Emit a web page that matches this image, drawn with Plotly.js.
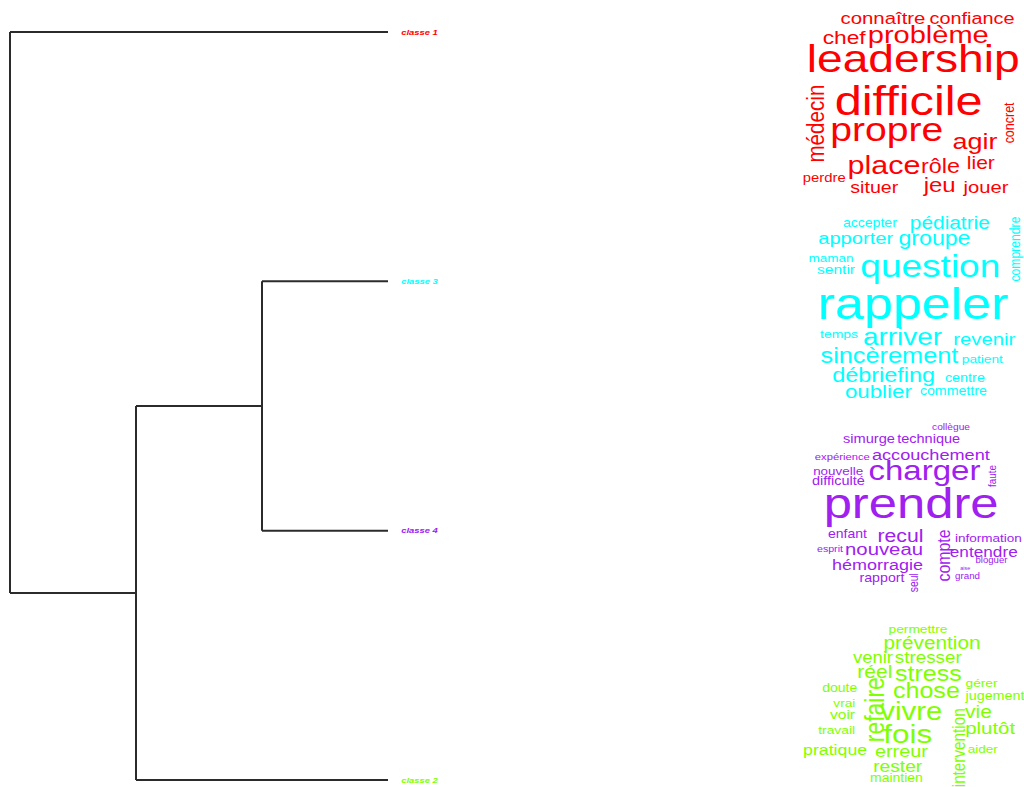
<!DOCTYPE html>
<html>
<head>
<meta charset="utf-8">
<script src="https://cdn.plot.ly/plotly-3.0.1.min.js"></script>
<style>html,body{margin:0;padding:0;background:#fff;}#chart{width:1024px;height:787px;}</style>
</head>
<body>
<div id="chart"></div>
<script>
// ---------- DATA ----------
// Dendrogram leaves (top to bottom) and merges (hclust style: negative = leaf index)
const leafLabels = ['classe 1', 'classe 3', 'classe 4', 'classe 2'];
const leafColors = ['#FF0000', '#00FFFF', '#A020F0', '#7FFF00'];
const mergePairs = [[-2, -3], [1, -4], [-1, 2]];
const mergeHeights = [1, 2, 3];

// Word clouds, one list per class
const words1 = ['connaître','confiance','chef','problème','leadership','difficile','médecin','concret','propre','agir','place','rôle','lier','perdre','situer','jeu','jouer'];
const words3 = ['accepter','pédiatrie','comprendre','apporter','groupe','maman','sentir','question','rappeler','temps','arriver','revenir','sincèrement','patient','débriefing','centre','oublier','commettre'];
const words4 = ['collègue','simurge','technique','expérience','accouchement','charger','nouvelle','difficulté','faute','prendre','enfant','recul','compte','information','esprit','nouveau','entendre','hémorragie','bloguer','aise','grand','rapport','seul'];
const words2 = ['permettre','prévention','venir','stresser','réel','stress','gérer','doute','chose','jugement','refaire','vrai','vivre','vie','voir','intervention','fois','plutôt','travail','pratique','erreur','aider','rester','maintien'];

// ---------- LAYOUT OF WORDS (pixel boxes: [start, end, baseline, angle]) ----------
const place1 = [[840,925,24,0],[929,1014,24,0],[823,866,44,0],[867,988,43.5,0],[806,1019,72,0],[834,982,115,0],[85,163,823,-90],[102,143,1015,-90],[830,943,141,0],[953,998,149,0],[847,920,174,0],[921,960,173,0],[967,995,169,0],[802,845,182,0],[850,898,193,0],[923,955,192,0],[963,1008,193,0]];
const place3 = [[843,897,227,0],[910,990,229,0],[217,282,1020,-90],[818,893,244,0],[898,970,245,0],[808,853,262,0],[817,855,274,0],[860,1000,277,0],[817,1008,319,0],[820,858,338,0],[863,942,345,0],[953,1015,345,0],[820,958,363,0],[962,1003,363,0],[832,935,382,0],[945,985,382,0],[845,912,398,0],[920,987,395,0]];
const place4 = [[932,970,430,0],[843,895,443,0],[897,960,443,0],[815,870,460,0],[872,990,460,0],[868,980,480,0],[813,863,475,0],[812,865,485,0],[465,487,995,-90],[823,998,518,0],[828,867,538,0],[877,923,542,0],[530,582,950,-90],[955,1022,542,0],[817,843,552,0],[845,923,555,0],[950,1018,557,0],[832,923,570,0],[975,1007,563,0],[960,970,570,0],[955,980,579,0],[860,905,582,0],[573,592,918,-90]];
const place2 = [[888,947,633,0],[883,980,649,0],[853,893,663,0],[895,962,663,0],[857,892,678,0],[895,962,681,0],[965,997,687,0],[822,857,692,0],[893,960,698,0],[965,1024,700,0],[677,742,883,-90],[833,855,707,0],[880,942,720,0],[965,992,718,0],[830,855,719,0],[708,787,965,-90],[883,932,743,0],[965,1015,734,0],[818,855,734,0],[803,867,755,0],[875,928,757,0],[968,998,753,0],[873,922,772,0],[870,923,782,0]];

const W = 1024, H = 787;
const FONT = 'Liberation Sans';
const STRETCH = 1.18;   // the original picture is horizontally stretched

// ---------- DENDROGRAM SEGMENTS ----------
const nodePos = [], nodeH = [];
function posOf(i){ return i < 0 ? (-i) : nodePos[i-1]; }
function hOf(i){ return i < 0 ? 0 : nodeH[i-1]; }
const xs = [], ys = [];
mergePairs.forEach((pr, k) => {
  const h = mergeHeights[k];
  const pa = posOf(pr[0]), pb = posOf(pr[1]);
  pr.forEach(c => { xs.push(hOf(c), h, null); ys.push(posOf(c), posOf(c), null); });
  xs.push(h, h, null); ys.push(pa, pb, null);
  nodePos.push((pa + pb) / 2); nodeH.push(h);
});

const traces = [{
  type: 'scatter', mode: 'lines', x: xs, y: ys,
  line: {color: '#2b2b2b', width: 2}, hoverinfo: 'skip', showlegend: false
}];

const unitX = 126, leafPx = 388;
const unitY = 748 / 3, topPx = 32;
const xRange = [3 + (leafPx - 3*unitX) / unitX, -(W - leafPx) / unitX];
const yRange = [leafLabels.length + (H - (topPx + (leafLabels.length-1)*unitY)) / unitY, 1 - topPx / unitY];

const annotations = [];
const angles = [];
leafLabels.forEach((lab, i) => {
  annotations.push({
    x: 0, y: i + 1, xref: 'x', yref: 'y', text: lab, showarrow: false,
    xanchor: 'left', yanchor: 'middle', xshift: 14,
    font: {family: FONT, size: 8, color: leafColors[i], weight: 'bold', style: 'italic'}
  });
  angles.push(0);
});

const cv = document.createElement('canvas').getContext('2d');
cv.font = '100px "' + FONT + '"';
function addWords(words, places, color){
  words.forEach((w, i) => {
    const p = places[i];
    const len = p[1] - p[0];
    const m = cv.measureText(w).width / 100;
    let cx, cy, size;
    if (p[3] === 0) {
      size = len / (m * STRETCH);
      cx = (p[0] + p[1]) / 2; cy = p[2] - 0.3465 * size;
    } else {
      size = len / m;
      cy = (p[0] + p[1]) / 2; cx = p[2] - 0.3465 * size * STRETCH;
    }
    annotations.push({
      x: cx / W, y: 1 - cy / H, xref: 'paper', yref: 'paper', text: w,
      showarrow: false, xanchor: 'center', yanchor: 'middle', textangle: p[3],
      borderpad: 0, font: {family: FONT, size: size, color: color}
    });
    angles.push(p[3]);
  });
}
addWords(words1, place1, leafColors[0]);
addWords(words3, place3, leafColors[1]);
addWords(words4, place4, leafColors[2]);
addWords(words2, place2, leafColors[3]);

const layout = {
  width: W, height: H, margin: {l: 0, r: 0, t: 0, b: 0},
  paper_bgcolor: '#fff', plot_bgcolor: '#fff', showlegend: false,
  xaxis: {range: xRange, visible: false, fixedrange: true},
  yaxis: {range: yRange, visible: false, fixedrange: true},
  annotations: annotations
};
const gd = document.getElementById('chart');
Plotly.newPlot(gd, traces, layout, {displayModeBar: false, staticPlot: true}).then(() => {
  gd.querySelectorAll('g.annotation').forEach(g => {
    const idx = +g.getAttribute('data-index');
    const t = g.querySelector('text.annotation-text');
    if (!t) return;
    const b = t.getBBox();
    const cx = b.x + b.width / 2, cy = b.y + b.height / 2;
    const prev = t.getAttribute('transform');
    const mine = angles[idx] === 0
      ? `translate(${cx},0) scale(${STRETCH},1) translate(${-cx},0)`
      : `translate(0,${cy}) scale(1,${STRETCH}) translate(0,${-cy})`;
    t.setAttribute('transform', (prev ? prev + ' ' : '') + mine);
  });
});
</script>
</body>
</html>
